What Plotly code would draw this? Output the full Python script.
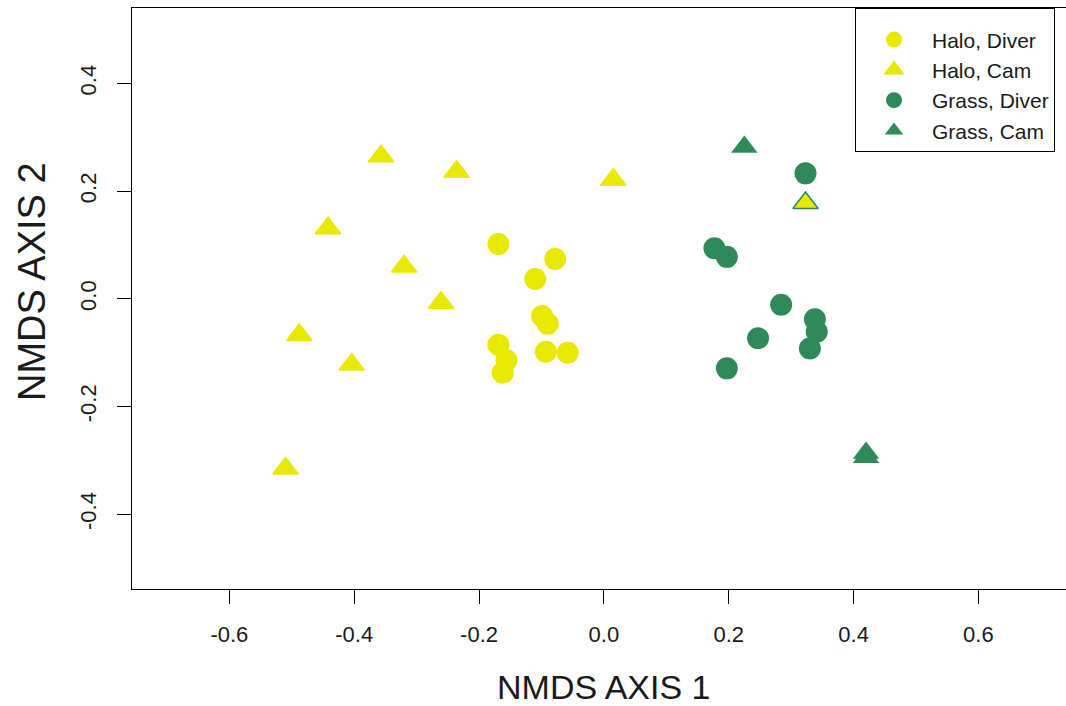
import plotly.graph_objects as go

# ---- data ----
halo_diver_x = [-0.169, -0.078, -0.110, -0.099, -0.090, -0.093, -0.058, -0.169, -0.156, -0.162]
halo_diver_y = [0.102, 0.074, 0.037, -0.032, -0.046, -0.098, -0.100, -0.085, -0.114, -0.137]

halo_cam_x = [-0.357, -0.236, 0.015, -0.442, -0.320, -0.261, -0.488, -0.404, -0.510, 0.323]
halo_cam_y = [0.265, 0.236, 0.221, 0.131, 0.060, -0.007, -0.067, -0.122, -0.315, 0.178]

grass_diver_x = [0.323, 0.177, 0.197, 0.284, 0.338, 0.341, 0.330, 0.247, 0.197]
grass_diver_y = [0.233, 0.094, 0.078, -0.011, -0.038, -0.061, -0.092, -0.073, -0.129]

grass_cam_x = [0.225, 0.420, 0.420]
grass_cam_y = [0.282, -0.286, -0.294]

tick_vals_x = [-0.6, -0.4, -0.2, 0.0, 0.2, 0.4, 0.6]
tick_text_x = ["-0.6", "-0.4", "-0.2", "0.0", "0.2", "0.4", "0.6"]
tick_vals_y = [-0.4, -0.2, 0.0, 0.2, 0.4]
tick_text_y = ["-0.4", "-0.2", "0.0", "0.2", "0.4"]

YELLOW = "#E8E800"
GREEN = "#2E8B57"
FONT = "Liberation Sans, Arial, sans-serif"
TXT = "#1a1a1a"

# the last Halo/Cam point carries a green outline (overlaps a Grass/Cam point)
halo_cam_line = [YELLOW] * (len(halo_cam_x) - 1) + [GREEN]

fig = go.Figure()
fig.add_trace(go.Scatter(x=halo_diver_x, y=halo_diver_y, mode="markers", name="Halo, Diver",
                         marker=dict(symbol="circle", size=22, color=YELLOW, line=dict(width=0))))
fig.add_trace(go.Scatter(x=halo_cam_x, y=halo_cam_y, mode="markers", name="Halo, Cam",
                         marker=dict(symbol="triangle-up", size=22, color=YELLOW,
                                     line=dict(width=1.5, color=halo_cam_line))))
fig.add_trace(go.Scatter(x=grass_diver_x, y=grass_diver_y, mode="markers", name="Grass, Diver",
                         marker=dict(symbol="circle", size=22, color=GREEN, line=dict(width=0))))
fig.add_trace(go.Scatter(x=grass_cam_x, y=grass_cam_y, mode="markers", name="Grass, Cam",
                         marker=dict(symbol="triangle-up", size=23, color=GREEN, line=dict(width=0))))

ML, MT, MB = 132, 8, 117
W, H = 1066, 706
PW = W - ML
PH = H - MT - MB

fig.update_layout(
    width=W, height=H,
    margin=dict(l=ML, r=0, t=MT, b=MB, pad=0),
    paper_bgcolor="white", plot_bgcolor="white",
    font=dict(family=FONT, color=TXT, size=21),
    showlegend=True,
    legend=dict(x=(855 - ML) / PW, y=1.0, xanchor="left", yanchor="top",
                bgcolor="white", bordercolor="black", borderwidth=1,
                font=dict(family=FONT, size=21, color=TXT),
                title=dict(text=" ", font=dict(size=8)),
                itemwidth=66, tracegroupgap=0),
    xaxis=dict(range=[-0.756, -0.756 + PW / 624.2], tickvals=tick_vals_x, ticktext=tick_text_x,
               showgrid=False, zeroline=False, showline=True, linecolor="black", linewidth=1,
               mirror=True, ticks="outside", ticklen=14, tickwidth=1, tickcolor="black",
               tickfont=dict(family=FONT, size=22, color=TXT), ticklabelstandoff=12,
               automargin=False),
    yaxis=dict(range=[-0.5386, 0.540], tickvals=tick_vals_y, ticktext=tick_text_y,
               showgrid=False, zeroline=False, showline=True, linecolor="black", linewidth=1,
               mirror=False, ticks="outside", ticklen=14, tickwidth=1, tickcolor="black",
               tickangle=-90, tickfont=dict(family=FONT, size=22, color=TXT),
               ticklabelstandoff=12, automargin=False),
    annotations=[
        dict(text="NMDS AXIS 1", xref="paper", yref="paper",
             x=(604 - ML) / PW, y=(MT + PH - 687) / PH, xanchor="center", yanchor="middle",
             showarrow=False, font=dict(family=FONT, size=34, color=TXT)),
        dict(text="NMDS AXIS 2", xref="paper", yref="paper", textangle=-90,
             x=(32 - ML) / PW, y=(MT + PH - 282) / PH, xanchor="center", yanchor="middle",
             showarrow=False, font=dict(family=FONT, size=38, color=TXT)),
    ],
)

fig.write_html("out.html", config={"displayModeBar": False},
               post_script="document.body.style.margin='0';document.body.style.overflow='hidden';")
